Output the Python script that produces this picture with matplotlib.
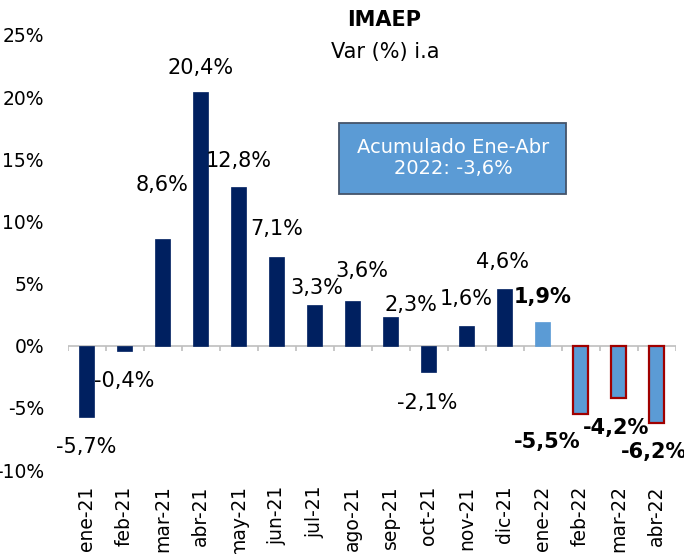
import matplotlib
matplotlib.use("Agg")
import matplotlib.pyplot as plt
from matplotlib.patches import Rectangle
import numpy as np

categories = ["ene-21", "feb-21", "mar-21", "abr-21", "may-21", "jun-21", "jul-21", "ago-21",
              "sep-21", "oct-21", "nov-21", "dic-21", "ene-22", "feb-22", "mar-22", "abr-22"]
values = [-5.7, -0.4, 8.6, 20.4, 12.8, 7.1, 3.3, 3.6, 2.3, -2.1, 1.6, 4.6, 1.9, -5.5, -4.2, -6.2]
labels = ["-5,7%", "-0,4%", "8,6%", "20,4%", "12,8%", "7,1%", "3,3%", "3,6%", "2,3%", "-2,1%",
          "1,6%", "4,6%", "1,9%", "-5,5%", "-4,2%", "-6,2%"]
yticks = [-10, -5, 0, 5, 10, 15, 20, 25]
ytick_labels = ["-10%", "-5%", "0%", "5%", "10%", "15%", "20%", "25%"]

# styling / layout (pixel offsets of data labels relative to bar ends)
label_offsets = [(0, -30), (0, -30), (0, 54), (0, 24), (0, 26), (0, 28), (2, 17), (9, 30),
                 (20, 12), (-1, -31), (0, 27), (-2, 27), (0, 25), (-33, -28), (-2, -30), (-2, -29)]
navy = "#002060"
light = "#5B9BD5"
red_edge = "#A00000"
FS = 15

fig = plt.figure(figsize=(6.84, 5.54), dpi=100)
ax = fig.add_axes([67.5 / 684, 1 - 470 / 554, 608 / 684, 435 / 554])

x = np.arange(len(categories))
for i, v in enumerate(values):
    if i < 12:
        fc, ec, lw = navy, navy, 0.5
    elif i == 12:
        fc, ec, lw = light, light, 0.5
    else:
        fc, ec, lw = light, red_edge, 1.6
    ax.bar(x[i], v, width=0.4, color=fc, edgecolor=ec, linewidth=lw, zorder=3)
    bold = i >= 12
    ax.annotate(labels[i], (x[i], v), xytext=label_offsets[i], textcoords="offset pixels",
                ha="center", va="center", fontsize=FS,
                fontweight="bold" if bold else "normal", color="black", zorder=5)

ax.set_xlim(-0.5, len(categories) - 0.5)
ax.set_ylim(-10, 25)
ax.axhline(0, color="#BFBFBF", linewidth=1.2, zorder=2)
ax.vlines(np.arange(len(categories) + 1) - 0.5, -0.45, 0, color="#BFBFBF", linewidth=1.2, zorder=2)

for s in ax.spines.values():
    s.set_visible(False)
ax.set_yticks(yticks)
ax.set_yticklabels(ytick_labels, fontsize=13.5)
ax.tick_params(axis="y", length=0, pad=17)
ax.set_xticks(x)
ax.set_xticklabels(categories, rotation=90, fontsize=13.5, va="top")
ax.tick_params(axis="x", length=0, pad=11)

fig.text(384 / 684, 1 - 20 / 554, "IMAEP", ha="center", va="center", fontsize=FS, fontweight="bold")
fig.text(385 / 684, 1 - 52 / 554, "Var (%) i.a", ha="center", va="center", fontsize=FS)

fig.patches.append(Rectangle((339 / 684, 1 - 194 / 554), 227 / 684, 71 / 554,
                             transform=fig.transFigure, facecolor=light, edgecolor="#44546A",
                             linewidth=1.3, zorder=1))
fig.text(453 / 684, 1 - 158 / 554, "Acumulado Ene-Abr\n2022: -3,6%", ha="center", va="center",
         fontsize=14, color="white", linespacing=1.15, zorder=2)

fig.savefig("out.png", dpi=100)
